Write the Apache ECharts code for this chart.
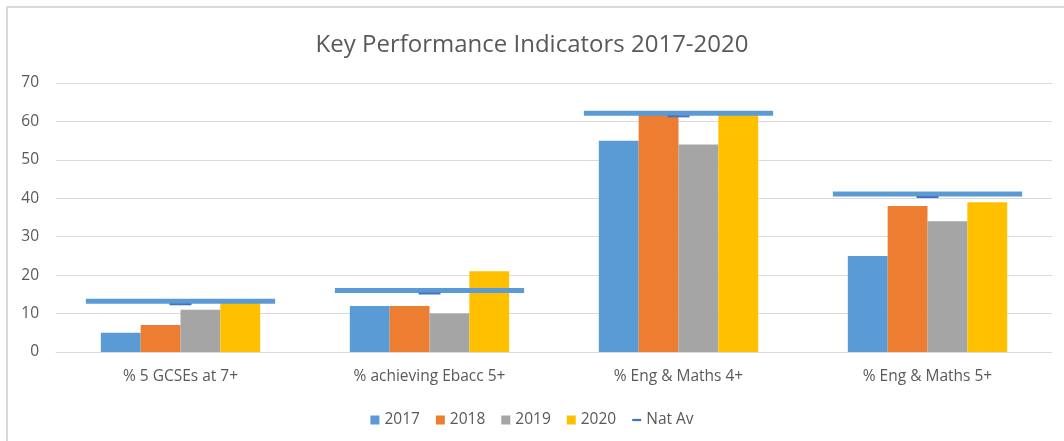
<!DOCTYPE html>
<html>
<head>
<meta charset="utf-8">
<script src="https://cdn.jsdelivr.net/npm/echarts@6/dist/echarts.min.js"></script>
<style>
  html, body { margin: 0; padding: 0; background: #fff; }
  #chart { width: 1064px; height: 441px; }
</style>
</head>
<body>
<div id="chart"></div>
<script>
const categories = ['% 5 GCSEs at 7+', '% achieving Ebacc 5+', '% Eng & Maths 4+', '% Eng & Maths 5+']
const years = ['2017', '2018', '2019', '2020']
const values2017 = [5, 12, 55, 25]
const values2018 = [7, 12, 62, 38]
const values2019 = [11, 10, 54, 34]
const values2020 = [13, 21, 62, 39]
const natAv = [13.2, 16, 62.1, 41.1]
const yTicks = [0, 10, 20, 30, 40, 50, 60, 70]

const colors = ['#5B9BD5', '#ED7D31', '#A5A5A5', '#FFC000']
const textColor = '#595959'
const font = 'Open Sans'

const chart = echarts.init(document.getElementById('chart'))

const barSeries = [values2017, values2018, values2019, values2020].map((vals, i) => ({
  name: years[i],
  type: 'bar',
  data: vals,
  barWidth: '16%',
  barGap: '0%',
  itemStyle: { color: colors[i] },
  z: 2
}))

// Nat Av: wide light-blue dash across the group, plus a small dark notch
const natAvSeries = {
  name: 'Nat Av',
  type: 'custom',
  data: natAv.map((v, i) => [i, v]),
  z: 5,
  itemStyle: { color: '#4472C4' },
  renderItem: function (params, api) {
    const pt = api.coord([api.value(0), api.value(1)])
    const band = api.size([1, 0])[0]
    const w = band * 0.76
    return {
      type: 'group',
      children: [
        {
          type: 'rect',
          shape: { x: pt[0] - w / 2, y: pt[1] - 2.5, width: w, height: 5 },
          style: { fill: '#5B9BD5' }
        },
        {
          type: 'rect',
          shape: { x: pt[0] - 11, y: pt[1] + 2, width: 22, height: 2 },
          style: { fill: '#4472C4' }
        }
      ]
    }
  }
}

const option = {
  animation: false,
  textStyle: { fontFamily: font },
  title: {
    text: 'Key Performance Indicators 2017-2020',
    left: 'center',
    top: 28,
    textStyle: { color: textColor, fontSize: 24, fontWeight: 'normal', fontFamily: font }
  },
  legend: {
    top: 407,
    left: 'center',
    itemWidth: 9,
    itemHeight: 9,
    itemGap: 16,
    textStyle: { color: textColor, fontSize: 15.5, fontFamily: font },
    data: [
      { name: '2017', icon: 'rect' },
      { name: '2018', icon: 'rect' },
      { name: '2019', icon: 'rect' },
      { name: '2020', icon: 'rect' },
      { name: 'Nat Av', icon: 'path://M0,4 L12,4 L12,7 L0,7 Z', itemStyle: { color: '#4472C4' } }
    ]
  },
  grid: { left: 56, right: 12, top: 83, bottom: 89, containLabel: false },
  xAxis: {
    type: 'category',
    data: categories,
    axisLine: { lineStyle: { color: '#D9D9D9', width: 1 } },
    axisTick: { show: false },
    axisLabel: { color: textColor, fontSize: 15.5, margin: 17, fontFamily: font }
  },
  yAxis: {
    type: 'value',
    min: yTicks[0],
    max: yTicks[yTicks.length - 1],
    interval: 10,
    axisLine: { show: false },
    axisTick: { show: false },
    axisLabel: { color: textColor, fontSize: 15.5, margin: 17, fontFamily: font },
    splitLine: { lineStyle: { color: '#D9D9D9', width: 1 } }
  },
  graphic: [
    {
      type: 'rect',
      shape: { x: 7, y: 7, width: 1100, height: 500 },
      style: { fill: 'none', stroke: '#D9D9D9', lineWidth: 2 },
      silent: true,
      z: -1
    }
  ],
  series: [...barSeries, natAvSeries]
}

chart.setOption(option)
</script>
</body>
</html>
